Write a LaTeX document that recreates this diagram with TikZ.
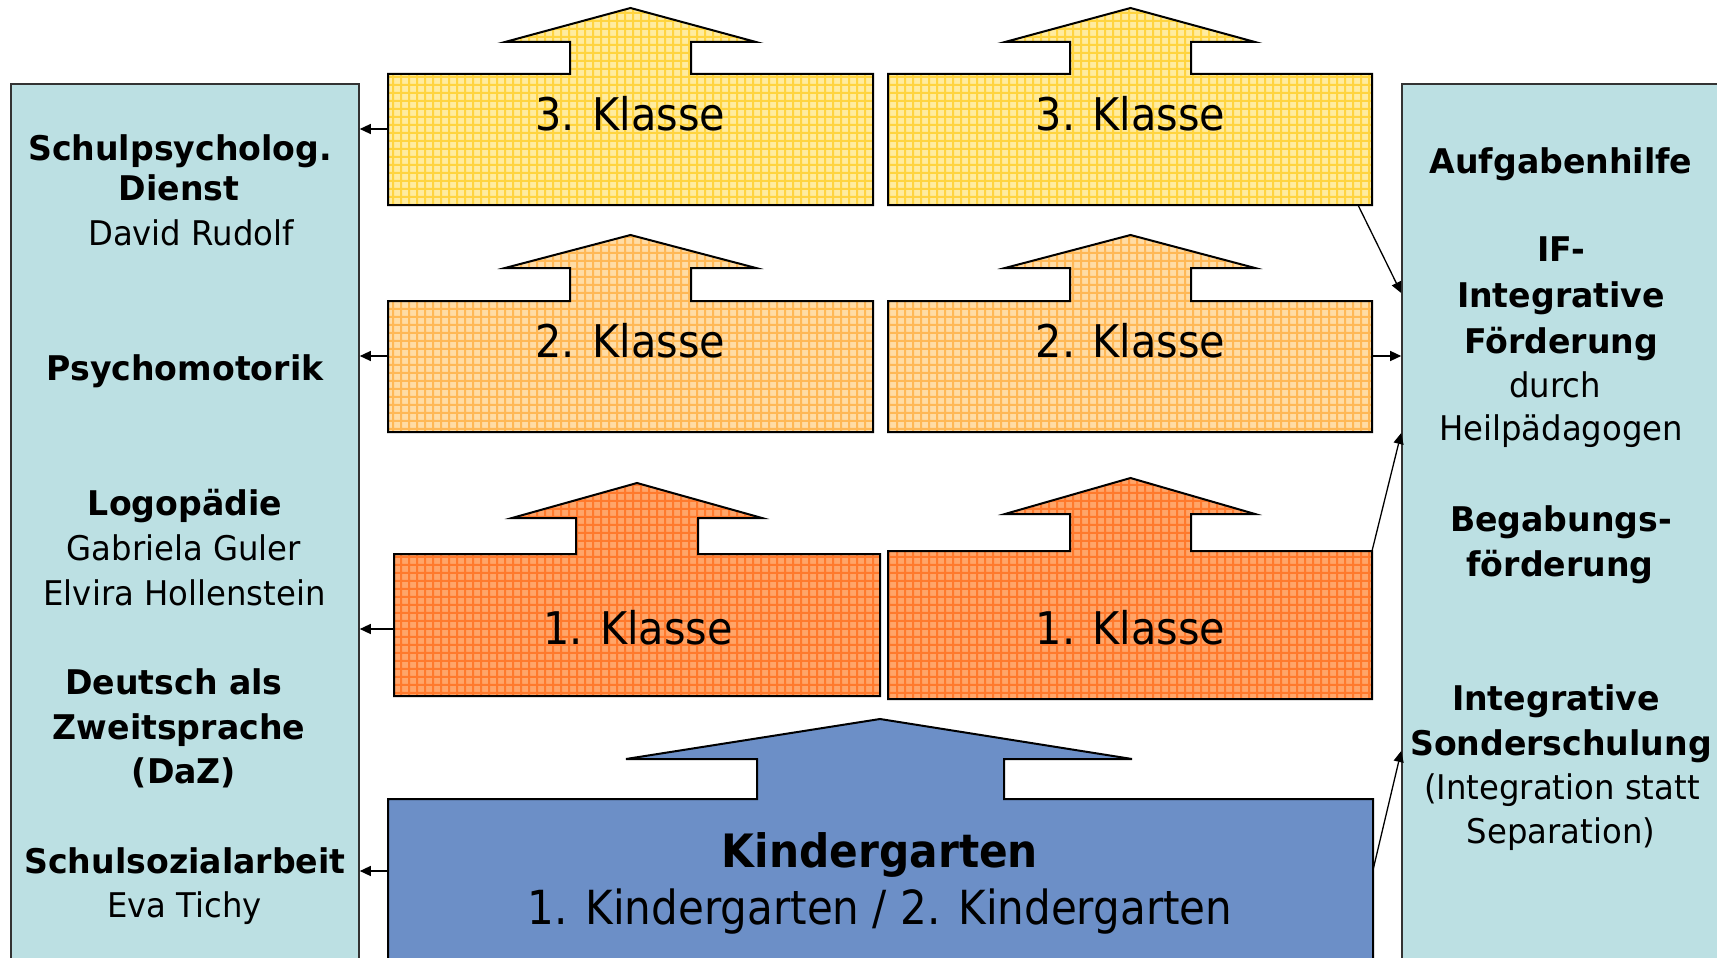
\documentclass[tikz,border=0pt]{standalone}
\usepackage{fontspec}
\setmainfont{DejaVu Sans}[FakeStretch=0.95,BoldFeatures={FakeStretch=0.975}]
\newfontfamily\klfont{DejaVu Sans}[FakeStretch=0.92,BoldFeatures={FakeStretch=0.92}]
\newfontfamily\kgfont{DejaVu Sans}[FakeStretch=0.895]
\usetikzlibrary{arrows.meta,patterns}
\definecolor{panelc}{RGB}{188,224,227}
\definecolor{yelB}{RGB}{255,236,160}
\definecolor{yelL}{RGB}{255,212,64}
\definecolor{lorB}{RGB}{255,220,165}
\definecolor{lorL}{RGB}{255,184,86}
\definecolor{dorB}{RGB}{255,165,105}
\definecolor{dorL}{RGB}{255,122,45}
\definecolor{bluc}{RGB}{108,143,199}
\pgfdeclarepatternformonly{plaid}{\pgfqpoint{-1pt}{-1pt}}{\pgfqpoint{9pt}{9pt}}{\pgfqpoint{8pt}{8pt}}{%
  \pgfpathrectangle{\pgfqpoint{0pt}{0pt}}{\pgfqpoint{8pt}{2pt}}%
  \pgfpathrectangle{\pgfqpoint{0pt}{0pt}}{\pgfqpoint{2pt}{8pt}}%
  \pgfusepath{fill}}
\tikzset{
  bodybox/.style={inner sep=0pt,outer sep=0pt},
  shapeY/.style={preaction={fill=yelB},pattern=plaid,pattern color=yelL,draw=black,line width=2pt,line join=miter},
  shapeO/.style={preaction={fill=lorB},pattern=plaid,pattern color=lorL,draw=black,line width=2pt,line join=miter},
  shapeD/.style={preaction={fill=dorB},pattern=plaid,pattern color=dorL,draw=black,line width=2pt,line join=miter},
  shapeB/.style={fill=bluc,draw=black,line width=2pt,line join=miter},
  panelbox/.style={fill=panelc,draw=black!80,line width=1.6pt,inner sep=0pt},
  conn/.style={draw=black,line width=1.3pt,-{Triangle[length=11pt,width=10pt]}},
  klasse/.style={anchor=base,font=\klfont\fontsize{45pt}{54pt}\selectfont,inner sep=0pt},
  side/.style={anchor=base,font=\fontsize{34pt}{45pt}\selectfont,inner sep=0pt},
  sideb/.style={anchor=base,font=\fontsize{34pt}{45pt}\selectfont\bfseries,inner sep=0pt},
}
% #1 name, #2 style, #3 shaft left, #4 shaft right, #5 head left, #6 head right, #7 head base y, #8 tip x, #9 tip y
\newcommand{\UArrowShape}[9]{%
  \path[#2] (#1.north west) -- (#3,0 |- #1.north) -- (#3,#7) -- (#5,#7) -- (#8,#9)
    -- (#6,#7) -- (#4,#7) -- (#4,0 |- #1.north) -- (#1.north east) -- (#1.south east)
    -- (#1.south west) -- cycle;}
\begin{document}
\begin{tikzpicture}[x=1pt,y=-1pt]
\useasboundingbox (0,0) rectangle (1717,958);
\begin{scope}
\clip (0,0) rectangle (1717,958);
% side panels
\node[panelbox,minimum width=348pt,minimum height=900pt] (LP) at (185,534) {};
\node[panelbox,minimum width=330pt,minimum height=900pt] (RP) at (1567,534) {};
% bodies
\node[bodybox,minimum width=485pt,minimum height=131pt] (Y3L) at (630.5,139.5) {};
\node[bodybox,minimum width=484pt,minimum height=131pt] (Y3R) at (1130,139.5) {};
\node[bodybox,minimum width=485pt,minimum height=131pt] (O2L) at (630.5,366.5) {};
\node[bodybox,minimum width=484pt,minimum height=131pt] (O2R) at (1130,366.5) {};
\node[bodybox,minimum width=486pt,minimum height=142pt] (O1L) at (637,625) {};
\node[bodybox,minimum width=484pt,minimum height=148pt] (O1R) at (1130,625) {};
\node[bodybox,minimum width=985pt,minimum height=170pt] (KG) at (880.5,884) {};
\UArrowShape{Y3L}{shapeY}{570}{691}{505}{756}{42}{630.5}{8}
\UArrowShape{Y3R}{shapeY}{1070}{1191}{1005}{1255}{42}{1130.5}{8}
\UArrowShape{O2L}{shapeO}{570}{691}{505}{756}{268}{630.5}{235}
\UArrowShape{O2R}{shapeO}{1070}{1191}{1005}{1255}{268}{1130.5}{235}
\UArrowShape{O1L}{shapeD}{576}{698}{512}{762}{518}{637}{483}
\UArrowShape{O1R}{shapeD}{1070}{1191}{1005}{1255}{514}{1130.5}{478}
\UArrowShape{KG}{shapeB}{757}{1004}{626}{1132}{759}{880}{719}
\end{scope}
% labels in shapes
\node[klasse] (t3L) at (630.5,130) {3. Klasse};
\node[klasse] (t3R) at (1130.5,130) {3. Klasse};
\node[klasse] (t2L) at (630.5,357) {2. Klasse};
\node[klasse] (t2R) at (1130.5,357) {2. Klasse};
\node[klasse] (t1L) at (638,644) {1. Klasse};
\node[klasse] (t1R) at (1130.5,644) {1. Klasse};
\node[klasse,font=\klfont\fontsize{46pt}{54pt}\selectfont\bfseries] (tKG1) at (880,867) {Kindergarten};
\node[klasse,font=\kgfont\fontsize{47pt}{54pt}\selectfont] (tKG2) at (880,924) {1. Kindergarten / 2. Kindergarten};
% left panel texts
\node[sideb] (l1) at (180,160) {Schulpsycholog.};
\node[sideb] (l2) at (179,200) {Dienst};
\node[side] (l3) at (191,245) {David Rudolf};
\node[sideb] (l4) at (185,380) {Psychomotorik};
\node[sideb] (l5) at (185,515) {Logopädie};
\node[side] (l6) at (184,560) {Gabriela Guler};
\node[side] (l7) at (184.5,605) {Elvira Hollenstein};
\node[sideb] (l8) at (174,694) {Deutsch als};
\node[sideb] (l9) at (179,739) {Zweitsprache};
\node[sideb] (l10) at (184,783) {(DaZ)};
\node[sideb] (l11) at (185,873) {Schulsozialarbeit};
\node[side] (l12) at (184.5,917) {Eva Tichy};
% right panel texts
\node[sideb] (r1) at (1561,173) {Aufgabenhilfe};
\node[sideb] (r2) at (1561,261) {IF-};
\node[sideb] (r3) at (1561,307) {Integrative};
\node[sideb] (r4) at (1561,353) {Förderung};
\node[side] (r5) at (1555,397) {durch};
\node[side] (r6) at (1561,440) {Heilpädagogen};
\node[sideb] (r7) at (1561,531) {Begabungs-};
\node[sideb] (r8) at (1560,576) {förderung};
\node[sideb] (r9) at (1556,710) {Integrative};
\node[sideb] (r10) at (1561,755) {Sonderschulung};
\node[side] (r11) at (1562,799) {(Integration statt};
\node[side] (r12) at (1561,843) {Separation)};
% connectors to the left panel
\draw[conn] (Y3L.west |- 0,129) -- (LP.east |- 0,129);
\draw[conn] (O2L.west |- 0,356) -- (LP.east |- 0,356);
\draw[conn] (O1L.west |- 0,629) -- (LP.east |- 0,629);
\draw[conn] (KG.west |- 0,871) -- (LP.east |- 0,871);
% connectors to the right panel
\draw[conn] (Y3R.south east) ++(-14,0) coordinate (c1) (c1) -- (RP.west |- 0,293);
\draw[conn] (O2R.east |- 0,356) -- (RP.west |- 0,356);
\draw[conn] (O1R.north east) -- (RP.west |- 0,433);
\draw[conn] (KG.east |- 0,870) -- (RP.west |- 0,751);
\end{tikzpicture}
\end{document}
